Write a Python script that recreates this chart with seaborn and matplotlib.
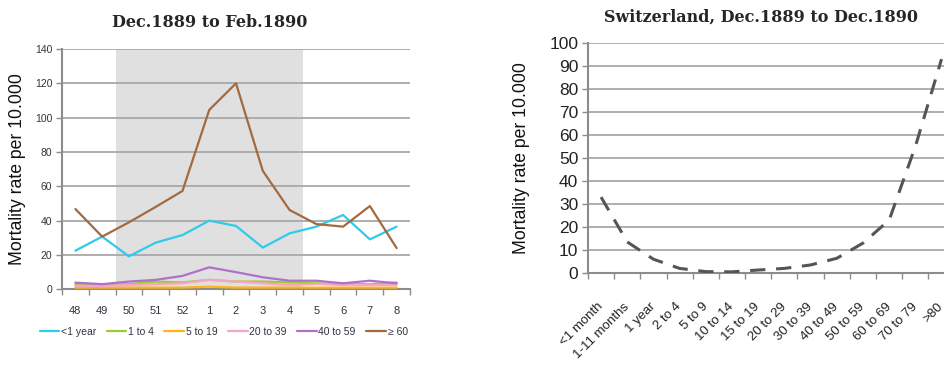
import matplotlib
matplotlib.use("Agg")
import matplotlib.pyplot as plt
import pandas as pd
import seaborn as sns

# ---- weekly mortality by age group (left panel) ----
weeks = ["48", "49", "50", "51", "52", "1", "2", "3", "4", "5", "6", "7", "8"]
groups = ["<1 year", "1 to 4", "5 to 19", "20 to 39", "40 to 59", "\u2265 60"]
rate_under1 = [22.5, 30.7, 19.2, 27.2, 31.6, 40.0, 36.9, 24.3, 32.6, 36.5, 43.3, 29.1, 36.5]
rate_1_4 = [3.0, 2.5, 3.0, 4.5, 4.0, 5.5, 4.5, 4.5, 4.0, 3.5, 3.0, 3.0, 4.0]
rate_5_19 = [1.0, 1.0, 1.0, 1.0, 1.0, 1.5, 1.0, 1.0, 1.0, 1.0, 1.0, 1.0, 1.0]
rate_20_39 = [2.0, 2.0, 2.5, 3.0, 3.5, 5.5, 4.5, 3.5, 2.5, 3.0, 2.5, 2.5, 2.5]
rate_40_59 = [3.9, 3.0, 4.5, 5.5, 7.8, 12.8, 10.0, 7.0, 5.0, 5.0, 3.5, 5.0, 3.5]
rate_60plus = [46.8, 30.7, 39.0, 48.0, 57.3, 104.5, 120.0, 69.0, 46.2, 38.0, 36.5, 48.5, 24.0]
group_colors = ["#2ECBEA", "#9ACD32", "#FFB414", "#F9A3CB", "#B070CC", "#A36A3F"]
epidemic_weeks = ("50", "4")

# ---- mortality by age class (right panel) ----
age_classes = ["<1 month", "1-11 months", "1 year", "2 to 4", "5 to 9", "10 to 14",
               "15 to 19", "20 to 29", "30 to 39", "40 to 49", "50 to 59",
               "60 to 69", "70 to 79", ">80"]
age_rates = [33, 13.5, 6, 2, 0.6, 0.5, 1.3, 2, 3.5, 6.4, 13, 23, 55, 93]

sns.set_theme(style="white")
plt.rcParams["font.family"] = ["Liberation Sans", "DejaVu Sans"]

fig = plt.figure(figsize=(9.45, 3.72), dpi=100)
grid_col = "#A8A8A8"
spine_col = "#8C8C8C"
tick_txt = "#333340"

# ================= left panel =================
ax1 = fig.add_axes([0.0656, 0.2223, 0.3683, 0.6460])
series = [rate_under1, rate_1_4, rate_5_19, rate_20_39, rate_40_59, rate_60plus]
rows = []
for g, vals in zip(groups, series):
    for i, (w, v) in enumerate(zip(weeks, vals)):
        rows.append({"pos": i, "week": w, "group": g, "rate": v})
df_weeks = pd.DataFrame(rows)

i0 = weeks.index(epidemic_weeks[0])
i1 = weeks.index(epidemic_weeks[1])
ax1.axvspan(i0 - 0.5, i1 + 0.5, color="#E0E0E0", zorder=0, lw=0)

sns.lineplot(data=df_weeks, x="pos", y="rate", hue="group", hue_order=groups,
             palette=dict(zip(groups, group_colors)), linewidth=1.6,
             ax=ax1, legend=False, sort=False, zorder=3)

ax1.set_xlim(-0.5, len(weeks) - 0.5)
ax1.set_ylim(0, 140)
ax1.set_yticks(range(0, 141, 20))
ax1.set_xticks(range(len(weeks)))
ax1.set_xticklabels(weeks)
ax1.set_xticks([i - 0.5 for i in range(len(weeks) + 1)], minor=True)
ax1.yaxis.grid(True, color=grid_col, lw=1.3, zorder=1)
ax1.set_axisbelow(True)
for s in ["top", "right"]:
    ax1.spines[s].set_visible(False)
for s in ["left", "bottom"]:
    ax1.spines[s].set_color(spine_col)
    ax1.spines[s].set_linewidth(1.5)
ax1.tick_params(axis="y", which="major", left=True, length=4, width=1, color=spine_col,
                labelsize=7.5, labelcolor=tick_txt, pad=3)
ax1.tick_params(axis="x", which="major", bottom=False, labelsize=8, labelcolor=tick_txt, pad=6)
ax1.tick_params(axis="x", which="minor", bottom=True, length=4, width=1, color=spine_col)
ax1.set_xlabel("")
ax1.set_ylabel("Mortality rate per 10.000", fontsize=12.7, color="#111111", labelpad=6)

handles = [plt.Line2D([], [], color=c, lw=1.6) for c in group_colors]
fig.legend(handles, groups, loc="center left", bbox_to_anchor=(0.032, 0.108), ncol=6,
           frameon=False, fontsize=7.5, handlelength=1.9, handletextpad=0.15,
           columnspacing=1.0, labelcolor=tick_txt)

fig.text(0.222, 0.94, "Dec.1889 to Feb.1890", ha="center", va="center",
         family="DejaVu Serif", weight="bold", fontsize=11.5)

# ================= right panel =================
ax2 = fig.add_axes([0.6222, 0.2661, 0.388, 0.6183])
df_age = pd.DataFrame({"pos": range(len(age_classes)), "age": age_classes, "rate": age_rates})
sns.lineplot(data=df_age, x="pos", y="rate", ax=ax2, color="#555555", linewidth=2.2,
             dashes=False, sort=False, zorder=3)
ax2.lines[-1].set_dashes([5, 3.5])

ax2.set_xlim(-0.5, len(age_classes) - 0.5)
ax2.set_ylim(0, 100)
ax2.set_yticks(range(0, 101, 10))
ax2.set_xticks(range(len(age_classes)))
ax2.set_xticklabels(age_classes, rotation=45, ha="right", va="center", rotation_mode="anchor")
ax2.set_xticks([i - 0.5 for i in range(len(age_classes) + 1)], minor=True)
ax2.yaxis.grid(True, color=grid_col, lw=1.3, zorder=1)
ax2.set_axisbelow(True)
for s in ["top", "right"]:
    ax2.spines[s].set_visible(False)
for s in ["left", "bottom"]:
    ax2.spines[s].set_color(spine_col)
    ax2.spines[s].set_linewidth(1.5)
ax2.tick_params(axis="y", which="major", left=True, length=4, width=1, color=spine_col,
                labelsize=12.5, labelcolor="#222222", pad=3)
ax2.tick_params(axis="x", which="major", bottom=False, labelsize=9.5, labelcolor="#222222", pad=17)
ax2.tick_params(axis="x", which="minor", bottom=True, length=4, width=1, color=spine_col)
ax2.set_xlabel("")
ax2.set_ylabel("Mortality rate per 10.000", fontsize=12.7, color="#111111", labelpad=14)

fig.text(0.805, 0.955, "Switzerland, Dec.1889 to Dec.1890", ha="center", va="center",
         family="DejaVu Serif", weight="bold", fontsize=11.5)

fig.savefig("out.png", dpi=100)
